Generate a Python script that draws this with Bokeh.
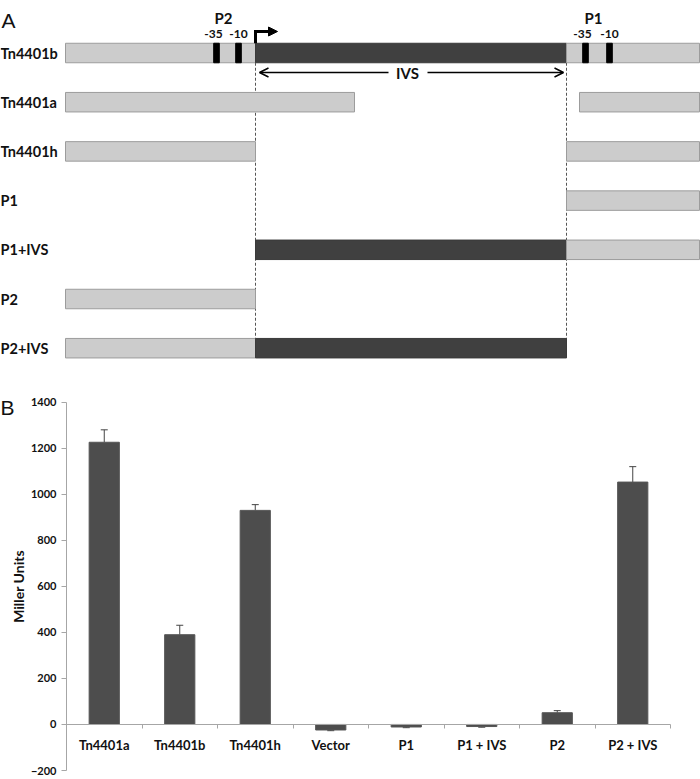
from bokeh.plotting import figure
from bokeh.layouts import column
from bokeh.models import (Range1d, ColumnDataSource, Whisker, TeeHead, Arrow,
                          OpenHead, NormalHead, FixedTicker, LinearAxis)
from bokeh.embed import file_html
from bokeh.resources import INLINE
from bokeh.core.properties import value

# ---------------- Panel A data (schematic, arbitrary map units) ----------------
constructs = ["Tn4401b", "Tn4401a", "Tn4401h", "P1", "P1+IVS", "P2", "P2+IVS"]
seg_row = [0, 0, 0, 1, 1, 2, 2, 3, 4, 4, 5, 6, 6]
seg_start = [65, 255, 566, 65, 579, 65, 566, 566, 255, 566, 65, 65, 255]
seg_end = [255, 566, 699, 354, 699, 255, 699, 699, 566, 699, 255, 255, 566]
seg_kind = ["flank", "ivs", "flank", "flank", "flank", "flank", "flank",
            "flank", "ivs", "flank", "flank", "flank", "ivs"]
promoter_names = ["P2", "P1"]
box_m35 = [216, 585]
box_m10 = [238, 609]
ivs_start, ivs_end = 255, 566
tss_x = 255

# ---------------- Panel B data ----------------
categories = ["Tn4401a", "Tn4401b", "Tn4401h", "Vector", "P1", "P1 + IVS", "P2", "P2 + IVS"]
miller = [1226, 390, 930, -24, -11, -9, 51, 1053]
miller_err = [54, 41, 25, 3, 3, 3, 9, 67]
y_ticks = [-200, 0, 200, 400, 600, 800, 1000, 1200, 1400]

FONT = "Lato"
LIGHT = "#cccccc"
LIGHT_LINE = "#9c9c9c"
DARK = "#404040"
AXIS_GREY = "#a6a6a6"
TXT = "#111111"

# ================= Panel A =================
ROW0, ROW_STEP, BAR_H = 52.5, 49.2, 19.5
pa = figure(width=700, height=384, x_range=Range1d(0, 700), y_range=Range1d(384, 0),
            output_backend="svg", toolbar_location=None, x_axis_location=None,
            y_axis_location=None, min_border=0, outline_line_color=None)
pa.grid.visible = False
pa.frame_align = False

def row_y(i):
    return ROW0 + ROW_STEP * i

top_y = row_y(0) + BAR_H / 2
bot_y = row_y(len(constructs) - 1) + BAR_H / 2
pa.segment(x0=[ivs_start, ivs_end], x1=[ivs_start, ivs_end], y0=[top_y, top_y],
           y1=[bot_y, bot_y], line_color="#555555", line_dash="3 2", line_width=1)

seg = ColumnDataSource(dict(
    left=seg_start, right=seg_end,
    top=[row_y(r) - BAR_H / 2 for r in seg_row],
    bottom=[row_y(r) + BAR_H / 2 for r in seg_row],
    fill=[LIGHT if k == "flank" else DARK for k in seg_kind],
    line=[LIGHT_LINE if k == "flank" else "#3a3a3a" for k in seg_kind],
))
pa.quad(left="left", right="right", top="top", bottom="bottom", fill_color="fill",
        line_color="line", line_width=1, source=seg)

BW = 5.6
bx = box_m35 + box_m10
pa.quad(left=[b - BW / 2 for b in bx], right=[b + BW / 2 for b in bx],
        top=[row_y(0) - BAR_H / 2] * len(bx), bottom=[row_y(0) + BAR_H / 2] * len(bx),
        fill_color="black", line_color="black")
pa.text(x=[b - 3 for b in box_m35] + box_m10, y=[33.5] * len(bx),
        text=["-35"] * len(box_m35) + ["-10"] * len(box_m10),
        text_font=value(FONT), text_font_size="12px", text_font_style="bold",
        text_align="center", text_baseline="middle", text_color=TXT)
pa.text(x=[(a + b) / 2 - 4 for a, b in zip(box_m35, box_m10)], y=[17, 17], text=promoter_names,
        text_font=value(FONT), text_font_size="15px", text_font_style="bold",
        text_align="center", text_baseline="middle", text_color=TXT)

# transcription start arrow
pa.line(x=[tss_x, tss_x, tss_x + 10], y=[row_y(0) - BAR_H / 2, 31, 31],
        line_width=3, line_color="black", line_join="miter")
pa.add_layout(Arrow(end=NormalHead(size=9, fill_color="black", line_color="black"),
                    x_start=tss_x + 8, y_start=31, x_end=tss_x + 22, y_end=31,
                    line_width=3, line_color="black"))

# IVS double arrow
IVS_Y = 72
pa.add_layout(Arrow(end=OpenHead(size=9, line_width=1.5, line_color="black"),
                    x_start=388, y_start=IVS_Y, x_end=ivs_start + 4, y_end=IVS_Y,
                    line_width=1.5, line_color="black"))
pa.add_layout(Arrow(end=OpenHead(size=9, line_width=1.5, line_color="black"),
                    x_start=427, y_start=IVS_Y, x_end=ivs_end - 3, y_end=IVS_Y,
                    line_width=1.5, line_color="black"))
pa.text(x=[407], y=[IVS_Y + 0.5], text=["IVS"], text_font=value(FONT), text_font_size="15px",
        text_font_style="bold", text_align="center", text_baseline="middle", text_color=TXT)

pa.text(x=[0] * len(constructs), y=[row_y(i) for i in range(len(constructs))],
        text=constructs, text_font=value(FONT), text_font_size="14.5px",
        text_font_style="bold", text_align="left", text_baseline="middle", text_color=TXT)
pa.text(x=[1], y=[20], text=["A"], text_font=value("Liberation Sans"),
        text_font_size="21px", text_align="left", text_baseline="alphabetic", text_color=TXT)

# ================= Panel B =================
n = len(categories)
centers = [i + 0.5 for i in range(n)]
bounds = list(range(n + 1))
PX_X = 604 / n            # pixels per category
PX_Y = 368.3 / 1600       # pixels per Miller unit
x_lo = -66 / PX_X
x_hi = n + 30 / PX_X
y_hi = 1400 + 17.7 / PX_Y
y_lo = -200 - 9 / PX_Y
pb = figure(width=700, height=395, x_range=Range1d(x_lo, x_hi), y_range=Range1d(y_lo, y_hi),
            output_backend="svg", toolbar_location=None, x_axis_location=None,
            y_axis_location=None, min_border=0, outline_line_color=None)
pb.grid.visible = False
pb.frame_align = False

src = ColumnDataSource(dict(x=centers, v=miller,
                            upper=[v + (e if v >= 0 else -e) for v, e in zip(miller, miller_err)]))
pb.vbar(x="x", top="v", bottom=0, width=0.4, fill_color="#4d4d4d", line_color="#555555",
        source=src)
pb.add_layout(Whisker(base="x", lower="v", upper="upper", source=src, lower_head=None,
                      upper_head=TeeHead(size=7, line_color="#444444", line_width=1),
                      line_color="#444444", line_width=1))

ya = LinearAxis(fixed_location=0, bounds=(y_ticks[0], y_ticks[-1]),
                ticker=FixedTicker(ticks=y_ticks))
ya.axis_line_color = AXIS_GREY
ya.major_tick_line_color = AXIS_GREY
ya.major_tick_out = 5
ya.major_tick_in = 0
ya.minor_tick_line_color = None
ya.major_label_text_font = FONT
ya.major_label_text_font_style = "bold"
ya.major_label_text_font_size = "11px"
ya.major_label_text_color = TXT
ya.major_label_standoff = 5
ya.axis_label = "Miller Units"
ya.axis_label_text_font = FONT
ya.axis_label_text_font_style = "bold"
ya.axis_label_text_font_size = "14px"
ya.axis_label_text_color = TXT
ya.axis_label_standoff = 1
pb.add_layout(ya, "left")

xa = LinearAxis(fixed_location=0, bounds=(0, n),
                ticker=FixedTicker(ticks=centers, minor_ticks=bounds),
                major_label_overrides={c: lab for c, lab in zip(centers, categories)})
xa.axis_line_color = AXIS_GREY
xa.major_tick_line_color = None
xa.major_tick_out = 0
xa.major_tick_in = 0
xa.minor_tick_line_color = AXIS_GREY
xa.minor_tick_out = 4
xa.minor_tick_in = 0
xa.major_label_text_font = FONT
xa.major_label_text_font_style = "bold"
xa.major_label_text_font_size = "13px"
xa.major_label_text_color = TXT
xa.major_label_standoff = 9
pb.add_layout(xa, "below")

pb.text(x=[x_lo], y=[1400 - 5.3 / PX_Y], text=["B"], text_font=value("Liberation Sans"),
        text_font_size="21px", text_align="left", text_baseline="alphabetic", text_color=TXT)

layout = column(pa, pb, spacing=0)
open("out.html", "w").write(file_html(layout, INLINE))
